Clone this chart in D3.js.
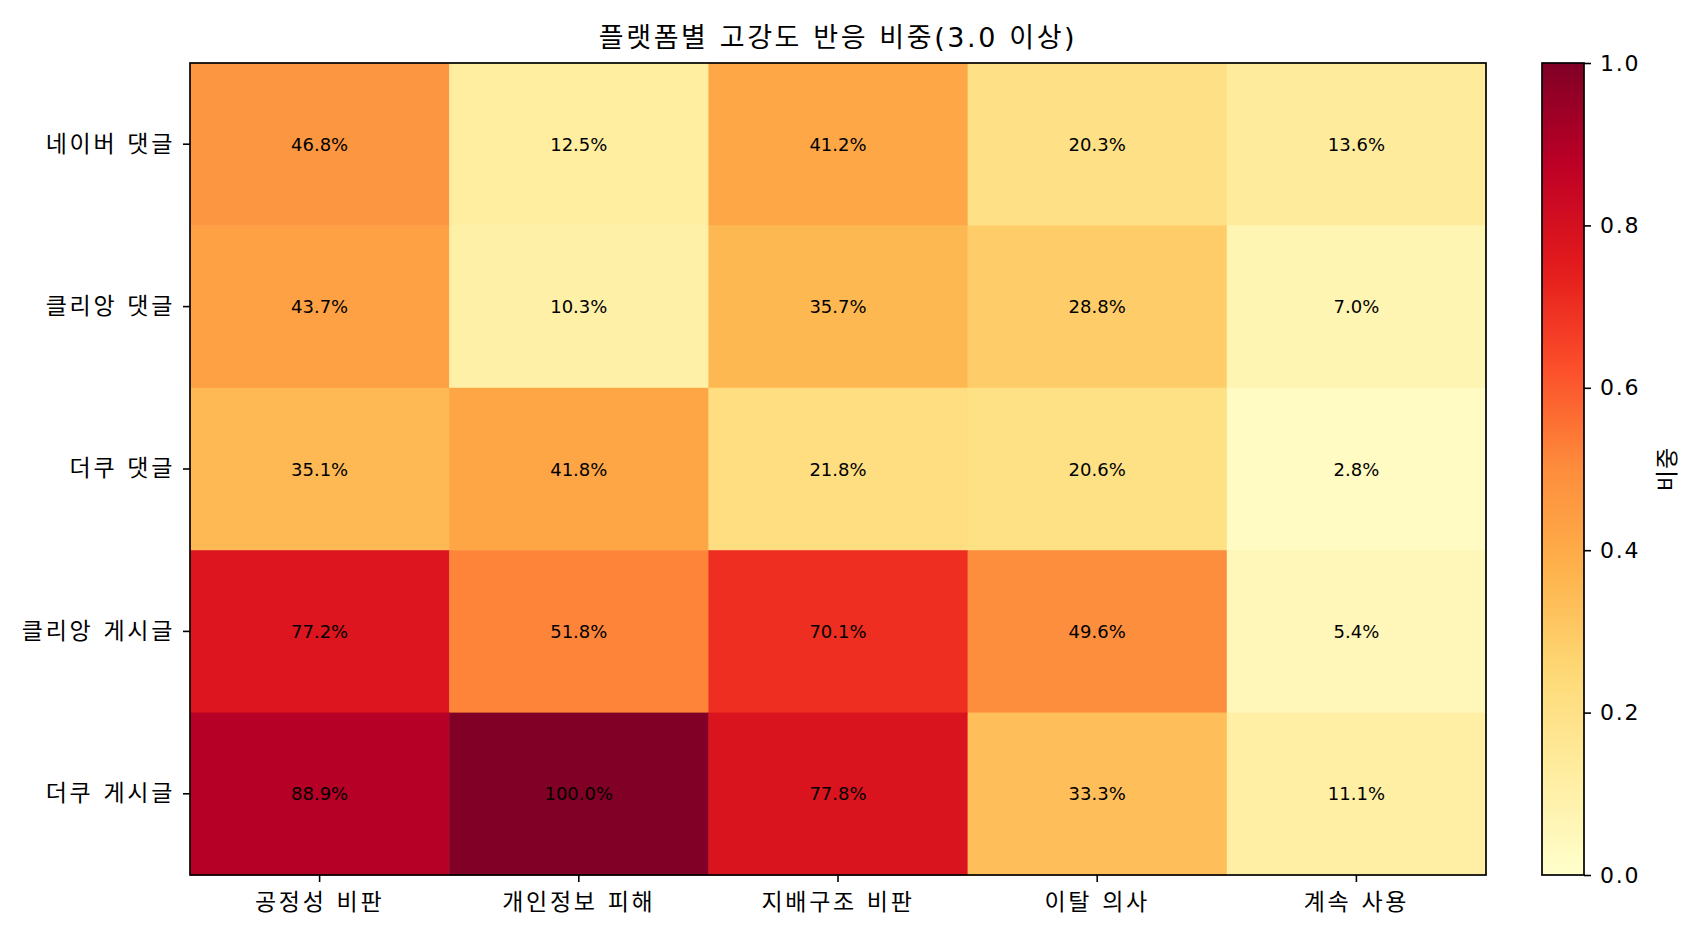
<!DOCTYPE html>
<html lang="ko">
<head>
  <meta charset="utf-8">
  <title>플랫폼별 고강도 반응 비중</title>
  <script src="https://d3js.org/d3.v7.min.js"></script>
  <style>
    body { margin: 0; background: #fff; }
    text { font-family: "DejaVu Sans", "Noto Sans CJK KR", sans-serif; fill: #000; }
  </style>
</head>
<body>
  <script>
  var platforms = ['네이버 댓글', '클리앙 댓글', '더쿠 댓글', '클리앙 게시글', '더쿠 게시글'];
  var reactions = ['공정성 비판', '개인정보 피해', '지배구조 비판', '이탈 의사', '계속 사용'];
  // 플랫폼별 비중(%) - 행: platforms, 열: reactions
  var shares = [
    [46.8, 12.5, 41.2, 20.3, 13.6],
    [43.7, 10.3, 35.7, 28.8, 7.0],
    [35.1, 41.8, 21.8, 20.6, 2.8],
    [77.2, 51.8, 70.1, 49.6, 5.4],
    [88.9, 100.0, 77.8, 33.3, 11.1]
  ];
  var cbTicks = [0, 0.2, 0.4, 0.6, 0.8, 1.0];

  var w = 1699, h = 940;
  var plot = {left: 190, top: 63, right: 1486, bottom: 875};
  var cb = {left: 1542, right: 1584};

  // matplotlib YlOrRd
  var ylorrd = ['#ffffcc', '#ffeda0', '#fed976', '#feb24c', '#fd8d3c', '#fc4e2a', '#e31a1c', '#bd0026', '#800026'];
  var color = d3.scaleLinear()
    .domain(d3.range(9).map(function(i) { return i / 8; }))
    .range(ylorrd)
    .interpolate(d3.interpolateRgb);

  var cells = [];
  shares.forEach(function(row, i) {
    row.forEach(function(v, j) {
      cells.push({r: platforms[i], c: reactions[j], v: v});
    });
  });

  var svg = d3.select('body').append('svg')
    .attr('width', w)
    .attr('height', h);

  var x = d3.scaleBand().domain(reactions).range([plot.left, plot.right]);
  var y = d3.scaleBand().domain(platforms).range([plot.top, plot.bottom]);

  svg.append('g').selectAll('rect')
    .data(cells)
    .enter().append('rect')
      .attr('x', function(d) { return x(d.c); })
      .attr('y', function(d) { return y(d.r); })
      .attr('width', x.bandwidth() + 0.5)
      .attr('height', y.bandwidth() + 0.5)
      .attr('fill', function(d) { return color(d.v / 100); });

  svg.append('g').selectAll('text')
    .data(cells)
    .enter().append('text')
      .attr('x', function(d) { return x(d.c) + x.bandwidth() / 2; })
      .attr('y', function(d) { return y(d.r) + y.bandwidth() / 2; })
      .attr('text-anchor', 'middle')
      .attr('dominant-baseline', 'central')
      .style('font-size', '18px')
      .text(function(d) { return d.v.toFixed(1) + '%'; });

  // axes
  var xAxis = d3.axisBottom(x).tickSize(7).tickPadding(12);
  var yAxis = d3.axisLeft(y).tickSize(7).tickPadding(8);

  var gx = svg.append('g')
    .attr('transform', 'translate(0,' + plot.bottom + ')')
    .call(xAxis);
  var gy = svg.append('g')
    .attr('transform', 'translate(' + plot.left + ',0)')
    .call(yAxis);
  [gx, gy].forEach(function(g) {
    g.select('.domain').remove();
    g.selectAll('.tick line').attr('stroke', '#000').attr('stroke-width', 1.6);
    g.selectAll('.tick text')
      .style('font-size', '23px')
      .style('letter-spacing', '2.7px')
      .attr('fill', '#000');
  });

  svg.append('rect')
    .attr('x', plot.left).attr('y', plot.top)
    .attr('width', plot.right - plot.left)
    .attr('height', plot.bottom - plot.top)
    .attr('fill', 'none').attr('stroke', '#000').attr('stroke-width', 1.7);

  svg.append('text')
    .attr('x', (plot.left + plot.right) / 2)
    .attr('y', 37)
    .attr('text-anchor', 'middle')
    .attr('dominant-baseline', 'central')
    .style('font-size', '27px')
    .style('letter-spacing', '2.6px')
    .text('플랫폼별 고강도 반응 비중(3.0 이상)');

  // colorbar
  var cy = d3.scaleLinear().domain([0, 1]).range([plot.bottom, plot.top]);
  var defs = svg.append('defs');
  var grad = defs.append('linearGradient')
    .attr('id', 'cbgrad')
    .attr('x1', 0).attr('y1', 1).attr('x2', 0).attr('y2', 0);
  grad.selectAll('stop')
    .data(d3.range(0, 1.0001, 0.02))
    .enter().append('stop')
      .attr('offset', function(d) { return d; })
      .attr('stop-color', function(d) { return color(d); });

  svg.append('rect')
    .attr('x', cb.left).attr('y', plot.top)
    .attr('width', cb.right - cb.left)
    .attr('height', plot.bottom - plot.top)
    .attr('fill', 'url(#cbgrad)')
    .attr('stroke', '#000').attr('stroke-width', 1.7);

  var gc = svg.append('g')
    .attr('transform', 'translate(' + cb.right + ',0)')
    .call(d3.axisRight(cy).tickValues(cbTicks).tickFormat(d3.format('.1f')).tickSize(7).tickPadding(9));
  gc.select('.domain').remove();
  gc.selectAll('.tick line').attr('stroke', '#000').attr('stroke-width', 1.6);
  gc.selectAll('.tick text')
    .style('font-size', '22px')
    .style('letter-spacing', '1.8px')
    .attr('fill', '#000');

  svg.append('text')
    .attr('transform', 'translate(1667,' + (plot.top + plot.bottom) / 2 + ') rotate(-90)')
    .attr('text-anchor', 'middle')
    .attr('dominant-baseline', 'central')
    .style('font-size', '23px')
    .style('letter-spacing', '1px')
    .text('비중');
  </script>
</body>
</html>
